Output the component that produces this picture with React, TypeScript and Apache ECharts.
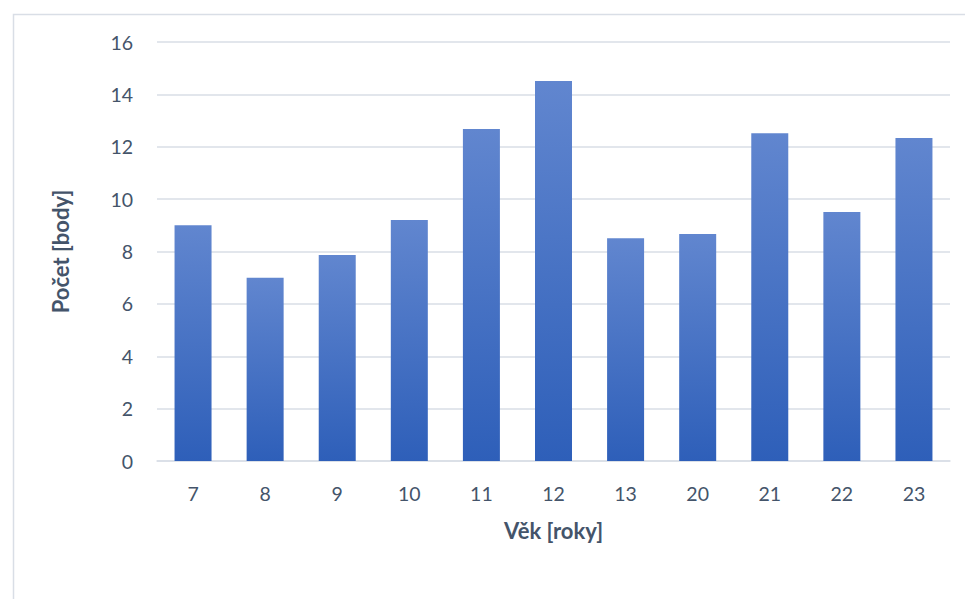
import React, { useEffect, useRef } from "react";
import * as echarts from "echarts";

const categories = ["7", "8", "9", "10", "11", "12", "13", "20", "21", "22", "23"];
const values = [9.0, 7.0, 7.87, 9.2, 12.68, 14.51, 8.51, 8.67, 12.52, 9.51, 12.33];
const yTicks = { min: 0, max: 16, interval: 2 };
const xTitle = "Věk [roky]";
const yTitle = "Počet [body]";

export default function App() {
  const ref = useRef<HTMLDivElement>(null);
  useEffect(() => {
    if (!ref.current) return;
    const chart = echarts.init(ref.current, null, { renderer: "svg" });
    const textColor = "#44546a";
    const font = "Lato";
    chart.setOption({
      animation: false,
      backgroundColor: "#ffffff",
      graphic: [
        {
          type: "rect",
          left: 11,
          top: 12,
          shape: { width: 1000, height: 1000 },
          style: { fill: "none", stroke: "#d9dee6", lineWidth: 1.5 },
          silent: true,
        },
      ],
      grid: { left: 157, right: 15, top: 42, bottom: 138 },
      xAxis: {
        type: "category",
        data: categories,
        axisLine: { show: true, lineStyle: { color: "#d9dee6", width: 1.5 } },
        axisTick: { show: false },
        axisLabel: { color: textColor, fontSize: 19.5, fontFamily: font, margin: 22 },
        name: xTitle,
        nameLocation: "middle",
        nameGap: 58,
        nameTextStyle: { color: textColor, fontSize: 22, fontWeight: "bold", fontFamily: font },
      },
      yAxis: {
        type: "value",
        min: yTicks.min,
        max: yTicks.max,
        interval: yTicks.interval,
        axisLine: { show: false },
        axisTick: { show: false },
        splitLine: { lineStyle: { color: "#d9dee6", width: 1.5 } },
        axisLabel: { color: textColor, fontSize: 19.5, fontFamily: font, margin: 24 },
        name: yTitle,
        nameLocation: "middle",
        nameRotate: 90,
        nameGap: 86,
        nameTextStyle: { color: textColor, fontSize: 22, fontWeight: "bold", fontFamily: font },
      },
      series: [
        {
          type: "bar",
          data: values,
          barWidth: 37,
          itemStyle: {
            color: new echarts.graphic.LinearGradient(0, 0, 0, 1, [
              { offset: 0, color: "#6186cf" },
              { offset: 1, color: "#2e5fb9" },
            ]),
          },
        },
      ],
    });
    return () => chart.dispose();
  }, []);
  return (
    <div
      ref={ref}
      style={{ position: "fixed", left: 0, top: 0, width: 965, height: 599 }}
    />
  );
}
